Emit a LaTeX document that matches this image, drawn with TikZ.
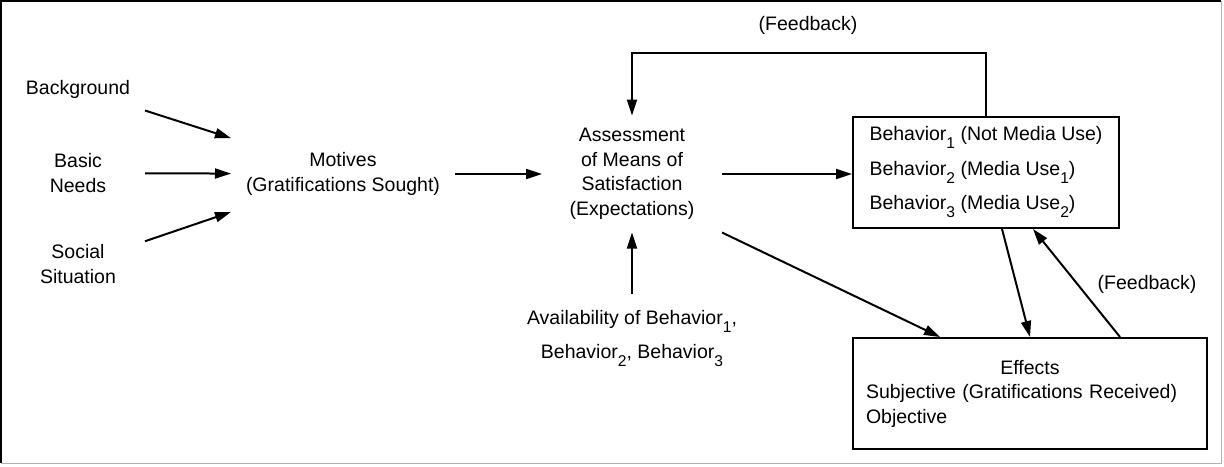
\documentclass[tikz,border=0pt]{standalone}
\usepackage{fontspec}
\setmainfont{Liberation Sans}
\usetikzlibrary{arrows.meta}
\newcommand{\idx}[1]{\raisebox{-4pt}{\fontsize{7.8}{8}\selectfont #1}}

\begin{document}
\begin{tikzpicture}[
    x=0.5pt, y=-0.5pt, line width=1pt,
    >={Triangle[length=8pt, width=5pt]},
    font=\fontsize{9.75}{12.25}\selectfont,
    txt/.style={align=center, inner sep=0pt},
    source/.style={align=center, inner sep=0pt, minimum width=66pt, minimum height=30pt},
    stage/.style={align=center, inner sep=0pt},
    box/.style={draw, align=left, inner sep=0pt, minimum height=55.5pt},
    arr/.style={->, line width=1pt}
]
\useasboundingbox (0,0) rectangle (1224,466);

% Frame
\draw (1,463) -- (1,1) -- (1221,1);
\draw[gray!60, line width=0.5pt] (1221,1) -- (1221,463) -- (1,463);

% Origins
\node[source] (bg) at (78,89) {Background};
\node[source] (needs) at (78,173) {Basic\\Needs};
\node[source] (social) at (78,264) {Social\\Situation};

% Stages
\node[stage, minimum width=111pt, minimum height=40pt] (motives) at (343,174) {Motives\\(Gratifications Sought)};
\node[stage, minimum width=89pt, minimum height=57.5pt] (assess) at (632,174) {Assessment\\of Means of\\Satisfaction\\(Expectations)};
\node[stage, inner sep=8pt] (avail) at (632,339) {Availability of Behavior\idx{1},\\[4.75pt] Behavior\idx{2}, Behavior\idx{3}};

% Boxes
\node[box, minimum width=133pt] (behav) at (986,172.5) {Behavior\idx{1} (Not Media Use)\\[5pt]
    Behavior\idx{2} (Media Use\idx{1})\\[5pt]
    Behavior\idx{3} (Media Use\idx{2})};
\node[box, text width=164pt, inner xsep=6.5pt] (effects) at (1030,393.5) {\makebox[164pt]{Effects}\\
    Subjective (Gratifications Received)\\
    Objective};

% Labels
\node[txt] (fbtop) at (808,25) {(Feedback)};
\node[txt] (fbside) at (1147,284) {(Feedback)};

% Connectors
\draw[arr] (bg) -- (motives);
\draw[arr] (needs) -- (motives);
\draw[arr] (social) -- (motives);
\draw[arr] (motives) -- (assess);
\draw[arr] (assess.east) -- (assess.east -| behav.west);
\draw[arr] (avail) -- (assess);
\draw[arr] (assess.south east) -- ([xshift=-45pt]effects.north);
\draw[arr] ([xshift=8pt]behav.south) -- (effects.north);
\draw[arr] (effects.north -| behav.east) -- ([xshift=23.5pt]behav.south);
\draw[arr] (behav.north) -- ++(0,-63) -| (assess.north);

\end{tikzpicture}
\end{document}
